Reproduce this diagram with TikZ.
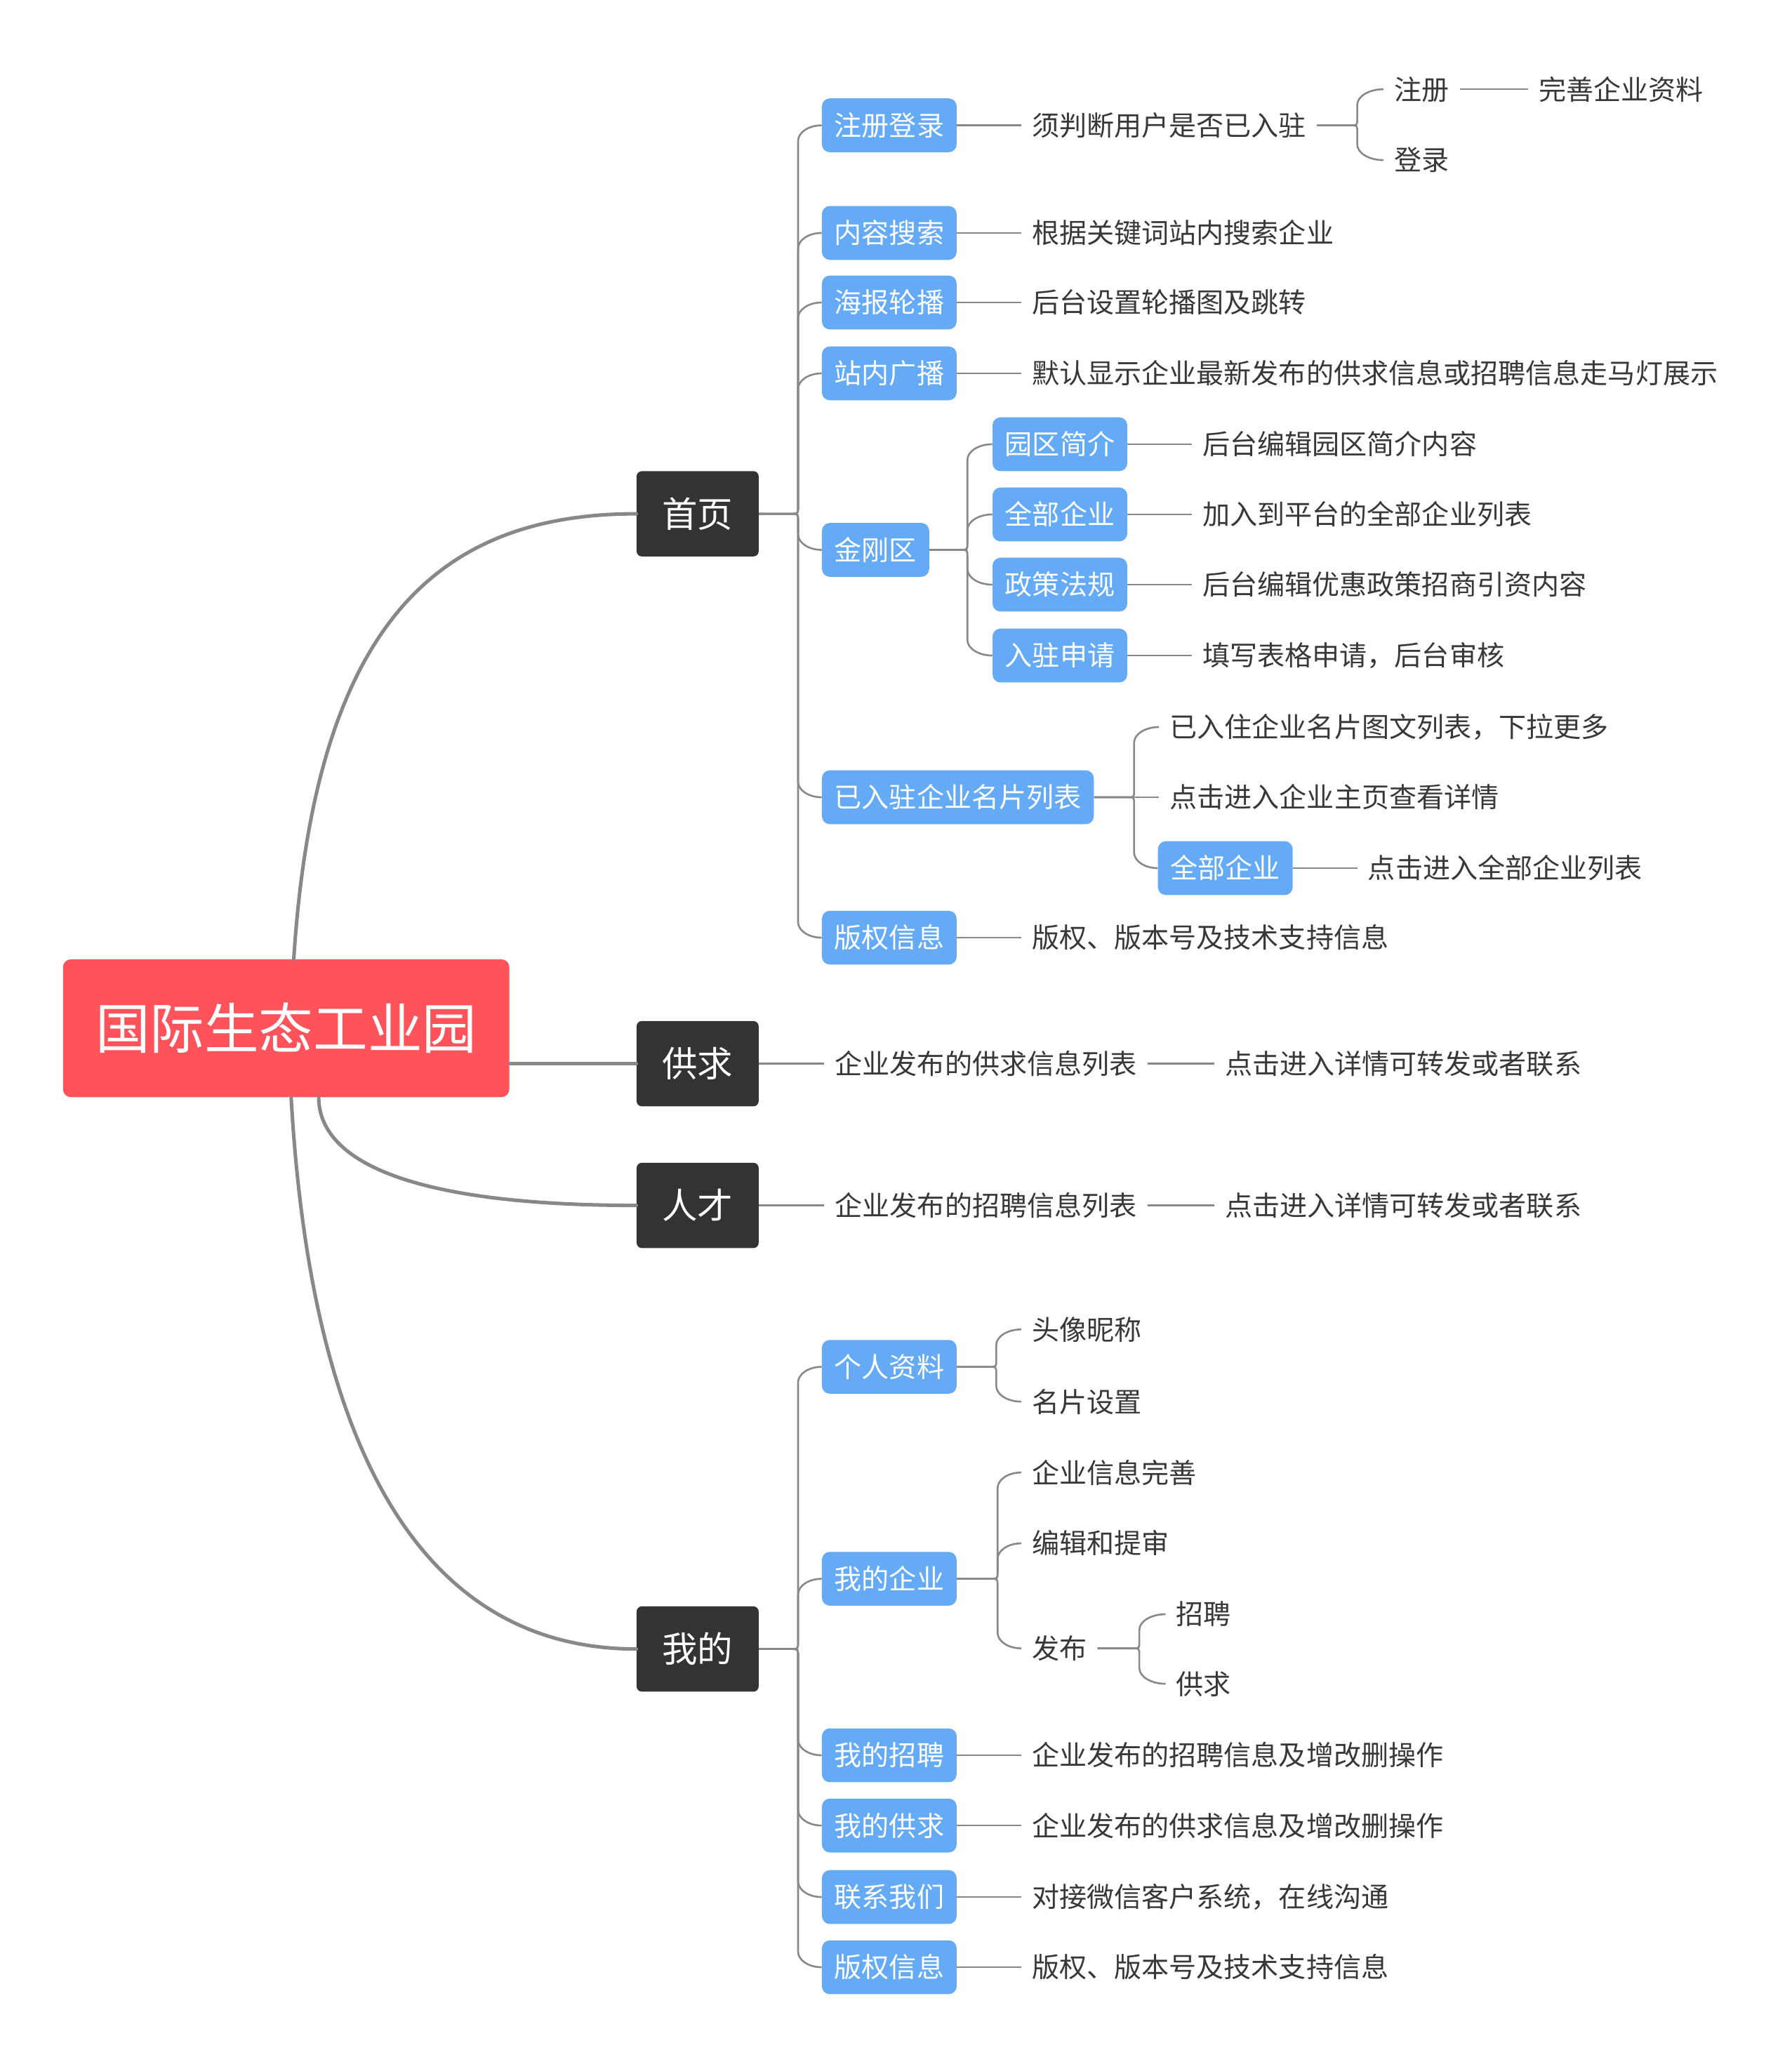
\documentclass[tikz,border=0pt]{standalone}
\usepackage{fontspec}
\newfontfamily\cjk{Noto Sans CJK SC}
\usetikzlibrary{calc}
\definecolor{rootred}{HTML}{FF535C}
\definecolor{darkbox}{HTML}{333333}
\definecolor{bluebox}{HTML}{64AAF5}
\definecolor{leaftext}{HTML}{383838}
\definecolor{linegray}{HTML}{888888}
\tikzset{
 rootbox/.style={inner ysep=0pt, text height=34.9pt, text depth=3.3pt, fill=rootred, text=white, rounded corners=6pt, minimum width=340pt, minimum height=105pt, inner xsep=0pt, font=\cjk\fontsize{41.5pt}{41.5pt}\selectfont},
 lvlbox/.style={inner ysep=0pt, text height=22.7pt, text depth=2.2pt, fill=darkbox, text=white, rounded corners=4pt, minimum width=93pt, minimum height=65pt, inner xsep=0pt, font=\cjk\fontsize{27pt}{27pt}\selectfont},
 bluenode/.style={inner ysep=0pt, text height=17.6pt, text depth=1.7pt, fill=bluebox, text=white, rounded corners=6pt, minimum height=41pt, inner xsep=9.5pt, anchor=west, font=\cjk\fontsize{20.9pt}{20.9pt}\selectfont},
 leaf/.style={inner ysep=0pt, text height=17.6pt, text depth=1.7pt, text=leaftext, inner xsep=8pt, anchor=west, font=\cjk\fontsize{20.9pt}{20.9pt}\selectfont},
 thinline/.style={draw=linegray, line width=1.4pt},
 thickline/.style={draw=linegray, line width=2.7pt, line cap=round},
}
\newcommand{\mmkid}[3]{%
\draw[thinline] let \p1=(#1.east), \p2=(#2.west),
 \n1={ifthenelse((\y2)<(\y1),-1,1)},
 \n2={min(12,abs((\y2)-(\y1))/2)},
 \n3={min(5,abs((\y2)-(\y1))/2)},
 \n4={(\x2)-#3} in
 (\p1) -- ({#3-\n3},\y1) .. controls (#3,\y1) .. (#3,{\y1+\n1*\n3})
 -- (#3,{\y2-\n1*\n2}) .. controls (#3,{\y2-0.448*\n1*\n2}) and ({#3+0.448*\n4},\y2) .. (\p2);}
\begin{document}
\begin{tikzpicture}[x=1pt,y=1pt]
\useasboundingbox (0,0) rectangle (1365.2,-1567.4);
% root and level 1
\node[rootbox] (root) at (218,-783.5) {国际生态工业园};
\node[lvlbox] (sy) at (531.5,-391.5) {首页};
\node[lvlbox] (gq) at (531.5,-810.5) {供求};
\node[lvlbox] (rc) at (531.5,-918.5) {人才};
\node[lvlbox] (wd) at (531.5,-1256.5) {我的};
% 首页 children
\node[bluenode] (zcdl) at (626,-95.5) {注册登录};
\node[bluenode] (nrss) at (626,-177.5) {内容搜索};
\node[bluenode] (hblb) at (626,-230.5) {海报轮播};
\node[bluenode] (znlb) at (626,-284.5) {站内广播};
\node[bluenode] (jgq) at (626,-419) {金刚区};
\node[bluenode] (yrz) at (626,-607.5) {已入驻企业名片列表};
\node[bluenode] (bq1) at (626,-714.5) {版权信息};
\node[leaf] (xpd) at (778,-95.5) {须判断用户是否已入驻};
\node[leaf] (zc) at (1054,-68) {注册};
\node[leaf] (dl) at (1054,-122) {登录};
\node[leaf] (wszl) at (1164,-68) {完善企业资料};
\node[leaf] (gjc) at (778,-177.5) {根据关键词站内搜索企业};
\node[leaf] (htlb) at (778,-230.5) {后台设置轮播图及跳转};
\node[leaf] (mrxs) at (778,-284.5) {默认显示企业最新发布的供求信息或招聘信息走马灯展示};
\node[bluenode] (yqjj) at (756,-338.5) {园区简介};
\node[bluenode] (qbqy1) at (756,-392) {全部企业};
\node[bluenode] (zcfg) at (756,-445.5) {政策法规};
\node[bluenode] (rzsq) at (756,-499.5) {入驻申请};
\node[leaf] (l1) at (908,-338.5) {后台编辑园区简介内容};
\node[leaf] (l2) at (908,-392) {加入到平台的全部企业列表};
\node[leaf] (l3) at (908,-445.5) {后台编辑优惠政策招商引资内容};
\node[leaf] (l4) at (908,-499.5) {填写表格申请，后台审核};
\node[leaf] (m1) at (883,-554) {已入住企业名片图文列表，下拉更多};
\node[leaf] (m2) at (883,-607.5) {点击进入企业主页查看详情};
\node[bluenode] (qbqy2) at (882,-661.5) {全部企业};
\node[leaf] (m3) at (1034,-661.5) {点击进入全部企业列表};
\node[leaf] (bqt1) at (778,-714.5) {版权、版本号及技术支持信息};
% 供求 / 人才
\node[leaf] (gq1) at (628,-810.5) {企业发布的供求信息列表};
\node[leaf] (gq2) at (925,-810.5) {点击进入详情可转发或者联系};
\node[leaf] (rc1) at (628,-918.5) {企业发布的招聘信息列表};
\node[leaf] (rc2) at (925,-918.5) {点击进入详情可转发或者联系};
% 我的 children
\node[bluenode] (grzl) at (626,-1041.5) {个人资料};
\node[bluenode] (wdqy) at (626,-1203) {我的企业};
\node[bluenode] (wdzp) at (626,-1337.5) {我的招聘};
\node[bluenode] (wdgq) at (626,-1391) {我的供求};
\node[bluenode] (lxwm) at (626,-1445.5) {联系我们};
\node[bluenode] (bq2) at (626,-1499) {版权信息};
\node[leaf] (txnc) at (778,-1013) {头像昵称};
\node[leaf] (mpsz) at (778,-1068) {名片设置};
\node[leaf] (qyxx) at (778,-1122) {企业信息完善};
\node[leaf] (bjts) at (778,-1176) {编辑和提审};
\node[leaf] (fb) at (778,-1256) {发布};
\node[leaf] (zp) at (888,-1230) {招聘};
\node[leaf] (gqs) at (888,-1283) {供求};
\node[leaf] (w1) at (778,-1337.5) {企业发布的招聘信息及增改删操作};
\node[leaf] (w2) at (778,-1391) {企业发布的供求信息及增改删操作};
\node[leaf] (w3) at (778,-1445.5) {对接微信客户系统，在线沟通};
\node[leaf] (w4) at (778,-1499) {版权、版本号及技术支持信息};
% root connectors
\draw[thickline] ($(root.north west)+(176,0)$) .. controls (240,-480) and (330,-391.5) .. (sy.west);
\draw[thickline] (root.east |- gq.west) -- (gq.west);
\draw[thickline] ($(root.south west)+(195,0)$) .. controls (243,-880) and (300,-918.5) .. (rc.west);
\draw[thickline] ($(root.south west)+(174,0)$) .. controls (238,-1120) and (330,-1256.5) .. (wd.west);
% 首页 branches
\foreach \c in {zcdl,nrss,hblb,znlb,jgq,yrz,bq1} {\mmkid{sy}{\c}{608}}
\draw[thinline] (zcdl.east) -- (xpd.west);
\mmkid{xpd}{zc}{1034}
\mmkid{xpd}{dl}{1034}
\draw[thinline] (zc.east) -- (wszl.west);
\draw[thinline] (nrss.east) -- (gjc.west);
\draw[thinline] (hblb.east) -- (htlb.west);
\draw[thinline] (znlb.east) -- (mrxs.west);
\foreach \c in {yqjj,qbqy1,zcfg,rzsq} {\mmkid{jgq}{\c}{737}}
\draw[thinline] (yqjj.east) -- (l1.west);
\draw[thinline] (qbqy1.east) -- (l2.west);
\draw[thinline] (zcfg.east) -- (l3.west);
\draw[thinline] (rzsq.east) -- (l4.west);
\foreach \c in {m1,m2,qbqy2} {\mmkid{yrz}{\c}{864}}
\draw[thinline] (qbqy2.east) -- (m3.west);
\draw[thinline] (bq1.east) -- (bqt1.west);
% 供求 / 人才
\draw[thinline] (gq.east) -- (gq1.west);
\draw[thinline] (gq1.east) -- (gq2.west);
\draw[thinline] (rc.east) -- (rc1.west);
\draw[thinline] (rc1.east) -- (rc2.west);
% 我的 branches
\foreach \c in {grzl,wdqy,wdzp,wdgq,lxwm,bq2} {\mmkid{wd}{\c}{608}}
\mmkid{grzl}{txnc}{759}
\mmkid{grzl}{mpsz}{759}
\foreach \c in {qyxx,bjts,fb} {\mmkid{wdqy}{\c}{760}}
\mmkid{fb}{zp}{868}
\mmkid{fb}{gqs}{868}
\draw[thinline] (wdzp.east) -- (w1.west);
\draw[thinline] (wdgq.east) -- (w2.west);
\draw[thinline] (lxwm.east) -- (w3.west);
\draw[thinline] (bq2.east) -- (w4.west);
\end{tikzpicture}
\end{document}
